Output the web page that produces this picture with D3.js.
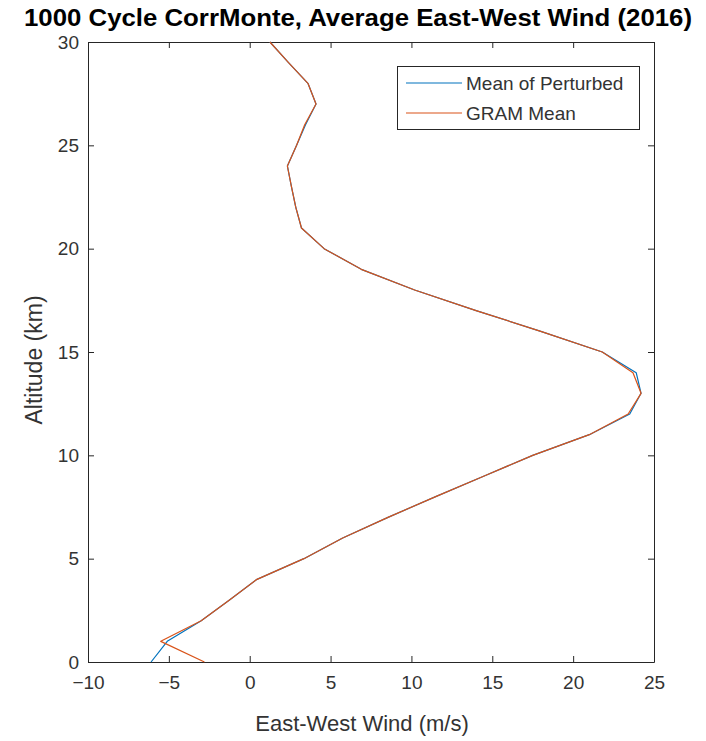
<!DOCTYPE html>
<html>
<head>
<meta charset="utf-8">
<script src="https://cdn.jsdelivr.net/npm/d3@7"></script>
<style>
  html, body { margin: 0; padding: 0; background: #fff; }
  svg { display: block; }
  text { font-family: "Liberation Sans", Arial, sans-serif; }
</style>
</head>
<body>
<svg id="chart" width="706" height="741"></svg>
<script>
// ---- Data ----
const altitudes = [0,1,2,3,4,5,6,7,8,9,10,11,12,13,14,15,16,17,18,19,20,21,22,23,24,25,26,27,28,29,30];
const meanPerturbed = [-6.1,-5.1,-3.0,-1.25,0.45,3.35,5.75,8.55,11.5,14.5,17.5,21.0,23.5,24.2,23.9,21.8,18.0,14.0,10.2,6.9,4.6,3.2,2.85,2.58,2.33,2.9,3.45,4.1,3.6,2.4,1.25];
const gramMean = [-2.8,-5.5,-3.0,-1.25,0.45,3.35,5.75,8.55,11.5,14.5,17.5,21.0,23.4,24.2,23.7,21.8,18.0,14.0,10.2,6.9,4.6,3.2,2.85,2.58,2.33,2.9,3.4,4.1,3.6,2.4,1.25];
const xTicks = [-10,-5,0,5,10,15,20,25];
const yTicks = [0,5,10,15,20,25,30];
const seriesNames = ["Mean of Perturbed", "GRAM Mean"];
const seriesColors = ["#0072BD", "#D95319"];

const titleText = "1000 Cycle CorrMonte, Average East-West Wind (2016)";
const xLabel = "East-West Wind (m/s)";
const yLabel = "Altitude (km)";

// ---- Layout ----
const L = 88, R = 654, T = 42, B = 662;
const svg = d3.select("#chart");
const x = d3.scaleLinear().domain([-10, 25]).range([L, R]);
const y = d3.scaleLinear().domain([0, 30]).range([B, T]);
const axisColor = "#262626";
const tickFont = 19;

// axes
const gx = svg.append("g").attr("transform", `translate(0,${B})`)
  .call(d3.axisBottom(x).tickValues(xTicks).tickSizeInner(-6).tickSizeOuter(0).tickPadding(14).tickFormat(d3.format("d")));
const gxTop = svg.append("g").attr("transform", `translate(0,${T})`)
  .call(d3.axisTop(x).tickValues(xTicks).tickSizeInner(-6).tickSizeOuter(0).tickFormat(""));
const gy = svg.append("g").attr("transform", `translate(${L},0)`)
  .call(d3.axisLeft(y).tickValues(yTicks).tickSizeInner(-6).tickSizeOuter(0).tickPadding(9).tickFormat(d3.format("d")));
const gyR = svg.append("g").attr("transform", `translate(${R},0)`)
  .call(d3.axisRight(y).tickValues(yTicks).tickSizeInner(-6).tickSizeOuter(0).tickFormat(""));

[gx, gxTop, gy, gyR].forEach(g => {
  g.select(".domain").attr("stroke", axisColor).attr("stroke-width", 1);
  g.selectAll(".tick line").attr("stroke", axisColor);
  g.selectAll(".tick text").attr("fill", "#333").style("font-size", tickFont + "px")
    .style("font-family", '"Liberation Sans", Arial, sans-serif');
});
gx.selectAll(".tick text").attr("dy", "0.71em");

// lines
const line = d3.line().x(d => x(d[0])).y(d => y(d[1]));
const seriesData = [meanPerturbed, gramMean];
seriesData.forEach((vals, i) => {
  svg.append("path")
    .datum(vals.map((v, k) => [v, altitudes[k]]))
    .attr("fill", "none")
    .attr("stroke", seriesColors[i])
    .attr("stroke-width", 1.2)
    .attr("stroke-linejoin", "round")
    .attr("d", line);
});

// title
svg.append("text")
  .attr("x", 358).attr("y", 26)
  .attr("text-anchor", "middle")
  .attr("textLength", 668).attr("lengthAdjust", "spacingAndGlyphs")
  .style("font-size", "23px").style("font-weight", "bold")
  .attr("fill", "#000")
  .text(titleText);

// axis labels
svg.append("text")
  .attr("x", 362).attr("y", 731)
  .attr("text-anchor", "middle")
  .style("font-size", "22px").attr("fill", "#333")
  .text(xLabel);
svg.append("text")
  .attr("transform", `translate(42,${(T + B) / 2 + 8}) rotate(-90)`)
  .attr("text-anchor", "middle")
  .style("font-size", "23px").attr("fill", "#333")
  .text(yLabel);

// legend
const lg = svg.append("g");
lg.append("rect").attr("x", 397.5).attr("y", 66.5).attr("width", 242).attr("height", 63)
  .attr("fill", "#fff").attr("stroke", axisColor).attr("stroke-width", 1);
seriesNames.forEach((name, i) => {
  const yy = 83 + i * 30;
  lg.append("line").attr("x1", 406).attr("x2", 462).attr("y1", yy).attr("y2", yy)
    .attr("stroke", seriesColors[i]).attr("stroke-width", 1.2);
  lg.append("text").attr("x", 466).attr("y", yy).attr("dy", "0.35em")
    .style("font-size", "19px").attr("fill", "#333").text(name);
});
</script>
</body>
</html>
